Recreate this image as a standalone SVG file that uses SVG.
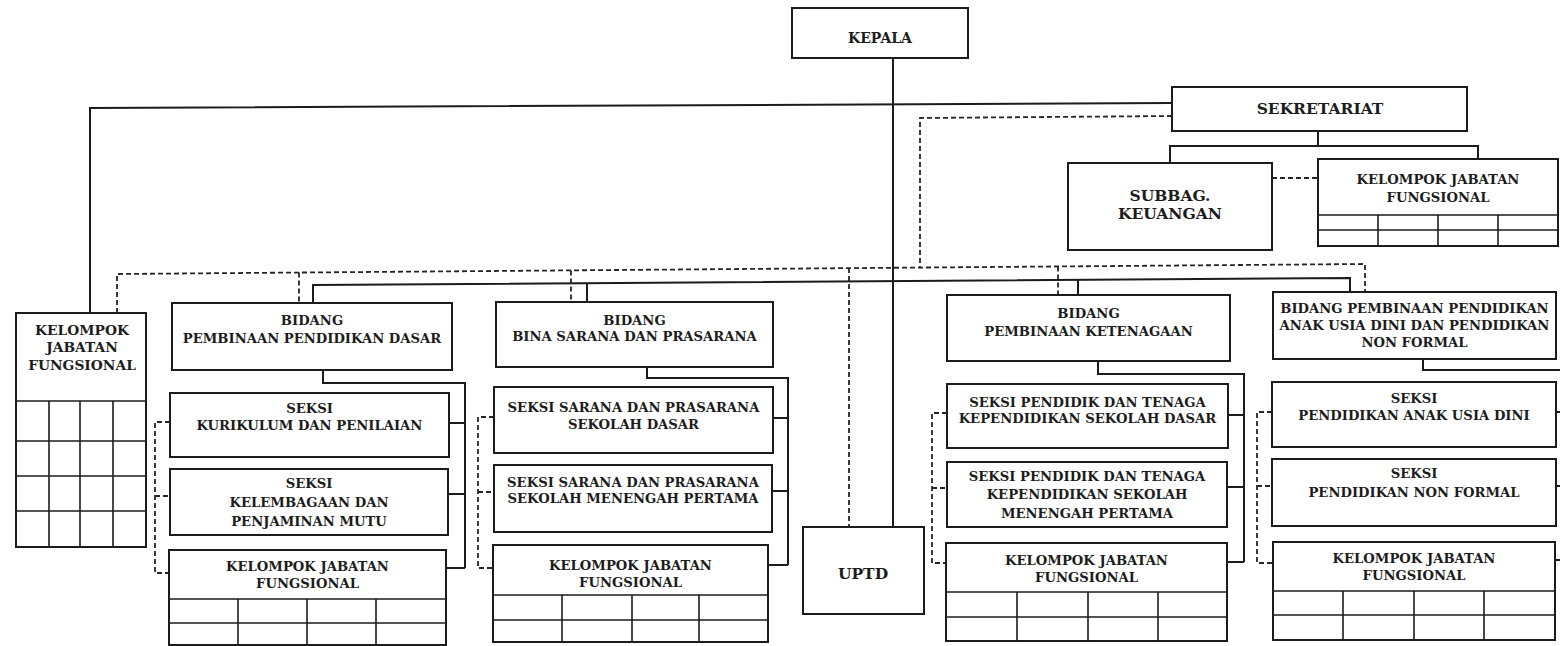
<svg xmlns="http://www.w3.org/2000/svg" width="1560" height="646" viewBox="0 0 1560 646">
<style>
.box{fill:#fff;stroke:#1c1c1c;stroke-width:2}
.ln{fill:none;stroke:#1c1c1c;stroke-width:2}
.thin{fill:none;stroke:#1c1c1c;stroke-width:1.6}
.dash{fill:none;stroke:#262626;stroke-width:1.8;stroke-dasharray:5 3}
text{font-family:"DejaVu Serif","Liberation Serif",serif;font-weight:bold;fill:#1c1c1c;text-anchor:middle}
.t{font-size:13.2px}
.tk{font-size:13.8px}
.tl{font-size:14px}
.tx{font-size:15.5px}
</style>
<rect width="1560" height="646" fill="#fff"/>
<g id="connectors">
  <path class="ln" d="M893,58 V527"/>
  <path class="ln" d="M90,313 V108 L1172,103"/>
  <path class="dash" d="M1172,116 L920,118 V267"/>
  <path class="dash" d="M117,313 V274 L1365,264 V292"/>
  <path class="dash" d="M299,272.5 V303"/>
  <path class="dash" d="M571,270.4 V302"/>
  <path class="dash" d="M849,268.1 V527"/>
  <path class="dash" d="M1058,266.5 V295"/>
  <path class="ln" d="M313,303 V285 L1350,278 V292"/>
  <path class="ln" d="M587,302 V283.2"/>
  <path class="ln" d="M1078,295 V279.8"/>
  <path class="ln" d="M1318,131 V146"/>
  <path class="ln" d="M1170,163 V146 H1478 V159"/>
  <path class="dash" d="M1272,178 H1318"/>
  <path class="ln" d="M323,370 V383 H465 V568 M449,423 H465 M448,494 H465 M446,568 H465"/>
  <path class="dash" d="M170,422 H155 V573 H169 M155,496 H170"/>
  <path class="ln" d="M647,367 V378 H788 V565 M773,418 H788 M772,491 H788 M768,565 H788"/>
  <path class="dash" d="M494,417 H478 V568 H493 M478,492 H494"/>
  <path class="ln" d="M1098,361 V374 H1244 V562 M1228,415 H1244 M1227,487 H1244 M1227,562 H1244"/>
  <path class="dash" d="M947,413 H932 V563 H946 M932,488 H947"/>
  <path class="ln" d="M1423,359 V370 H1563 V560 M1556,412 H1563 M1556,486 H1563 M1555,560 H1563"/>
  <path class="dash" d="M1272,412 H1257 V563 H1273 M1257,486 H1272"/>
</g>
<g id="kepala">
  <rect class="box" x="792" y="8" width="176" height="50"/>
  <text class="tl" x="880" y="43">KEPALA</text>
</g>
<g id="sekretariat">
  <rect class="box" x="1172" y="87" width="295" height="44"/>
  <text class="tx" x="1320" y="114">SEKRETARIAT</text>
</g>
<g id="subbag-keuangan">
  <rect class="box" x="1068" y="163" width="204" height="87"/>
  <text class="tx" x="1170" y="201">SUBBAG.</text>
  <text class="tx" x="1170" y="219">KEUANGAN</text>
</g>
<g id="kjf-sekretariat">
  <rect class="box" x="1318" y="159" width="240" height="87"/>
  <path class="thin" d="M1318,215 H1558 M1318,230 H1558 M1378,215 V246 M1438,215 V246 M1498,215 V246"/>
  <text class="t" x="1438" y="184">KELOMPOK JABATAN</text>
  <text class="t" x="1438" y="202">FUNGSIONAL</text>
</g>
<g id="kjf-kepala">
  <rect class="box" x="16" y="313" width="130" height="234"/>
  <path class="thin" d="M16,401 H146 M16,441 H146 M16,476 H146 M16,511 H146 M49,401 V547 M80,401 V547 M113,401 V547"/>
  <text class="tk" x="82" y="335">KELOMPOK</text>
  <text class="tk" x="82" y="352">JABATAN</text>
  <text class="tk" x="82" y="370">FUNGSIONAL</text>
</g>
<g id="uptd">
  <rect class="box" x="803" y="527" width="121" height="87"/>
  <text class="tx" x="863" y="579">UPTD</text>
</g>
<g id="bidang-dasar">
  <rect class="box" x="172" y="303" width="280" height="67"/>
  <text class="t" x="312" y="325">BIDANG</text>
  <text class="t" x="312" y="343">PEMBINAAN PENDIDIKAN DASAR</text>
</g>
<g id="seksi-kurikulum">
  <rect class="box" x="170" y="393" width="279" height="64"/>
  <text class="t" x="309.5" y="413">SEKSI</text>
  <text class="t" x="309.5" y="430">KURIKULUM DAN PENILAIAN</text>
</g>
<g id="seksi-kelembagaan">
  <rect class="box" x="170" y="469" width="278" height="66"/>
  <text class="t" x="309" y="488">SEKSI</text>
  <text class="t" x="309" y="507">KELEMBAGAAN DAN</text>
  <text class="t" x="309" y="526">PENJAMINAN MUTU</text>
</g>
<g id="kjf-dasar">
  <rect class="box" x="169" y="550" width="277" height="95"/>
  <path class="thin" d="M169,599 H446 M169,623 H446 M238,599 V645 M307,599 V645 M376,599 V645"/>
  <text class="t" x="307.5" y="571">KELOMPOK JABATAN</text>
  <text class="t" x="307.5" y="588">FUNGSIONAL</text>
</g>
<g id="bidang-sarana">
  <rect class="box" x="496" y="302" width="277" height="65"/>
  <text class="t" x="634.5" y="325">BIDANG</text>
  <text class="t" x="634.5" y="341">BINA SARANA DAN PRASARANA</text>
</g>
<g id="seksi-sarana-sd">
  <rect class="box" x="494" y="387" width="279" height="66"/>
  <text class="t" x="633.5" y="412">SEKSI SARANA DAN PRASARANA</text>
  <text class="t" x="633.5" y="429">SEKOLAH DASAR</text>
</g>
<g id="seksi-sarana-smp">
  <rect class="box" x="494" y="465" width="278" height="67"/>
  <text class="t" x="633" y="487">SEKSI SARANA DAN PRASARANA</text>
  <text class="t" x="633" y="503">SEKOLAH MENENGAH PERTAMA</text>
</g>
<g id="kjf-sarana">
  <rect class="box" x="493" y="545" width="275" height="97"/>
  <path class="thin" d="M493,595 H768 M493,620 H768 M562,595 V642 M632,595 V642 M699,595 V642"/>
  <text class="t" x="630.5" y="570">KELOMPOK JABATAN</text>
  <text class="t" x="630.5" y="587">FUNGSIONAL</text>
</g>
<g id="bidang-ketenagaan">
  <rect class="box" x="947" y="295" width="283" height="66"/>
  <text class="t" x="1088.5" y="318">BIDANG</text>
  <text class="t" x="1088.5" y="336">PEMBINAAN KETENAGAAN</text>
</g>
<g id="seksi-ptk-sd">
  <rect class="box" x="947" y="384" width="281" height="64"/>
  <text class="t" x="1087.5" y="407">SEKSI PENDIDIK DAN TENAGA</text>
  <text class="t" x="1087.5" y="423">KEPENDIDIKAN SEKOLAH DASAR</text>
</g>
<g id="seksi-ptk-smp">
  <rect class="box" x="947" y="462" width="280" height="65"/>
  <text class="t" x="1087" y="481">SEKSI PENDIDIK DAN TENAGA</text>
  <text class="t" x="1087" y="499">KEPENDIDIKAN SEKOLAH</text>
  <text class="t" x="1087" y="518">MENENGAH PERTAMA</text>
</g>
<g id="kjf-ketenagaan">
  <rect class="box" x="946" y="543" width="281" height="98"/>
  <path class="thin" d="M946,592 H1227 M946,617 H1227 M1017,592 V641 M1088,592 V641 M1158,592 V641"/>
  <text class="t" x="1086.5" y="565">KELOMPOK JABATAN</text>
  <text class="t" x="1086.5" y="582">FUNGSIONAL</text>
</g>
<g id="bidang-paud">
  <rect class="box" x="1273" y="292" width="283" height="67"/>
  <text class="t" x="1414.5" y="313">BIDANG PEMBINAAN PENDIDIKAN</text>
  <text class="t" x="1414.5" y="330">ANAK USIA DINI DAN PENDIDIKAN</text>
  <text class="t" x="1414.5" y="347">NON FORMAL</text>
</g>
<g id="seksi-paud">
  <rect class="box" x="1272" y="382" width="284" height="65"/>
  <text class="t" x="1414" y="403">SEKSI</text>
  <text class="t" x="1414" y="420">PENDIDIKAN ANAK USIA DINI</text>
</g>
<g id="seksi-pnf">
  <rect class="box" x="1272" y="459" width="284" height="67"/>
  <text class="t" x="1414" y="478">SEKSI</text>
  <text class="t" x="1414" y="497">PENDIDIKAN NON FORMAL</text>
</g>
<g id="kjf-paud">
  <rect class="box" x="1273" y="542" width="282" height="98"/>
  <path class="thin" d="M1273,591 H1555 M1273,615 H1555 M1343,591 V640 M1414,591 V640 M1484,591 V640"/>
  <text class="t" x="1414" y="563">KELOMPOK JABATAN</text>
  <text class="t" x="1414" y="580">FUNGSIONAL</text>
</g>
</svg>
